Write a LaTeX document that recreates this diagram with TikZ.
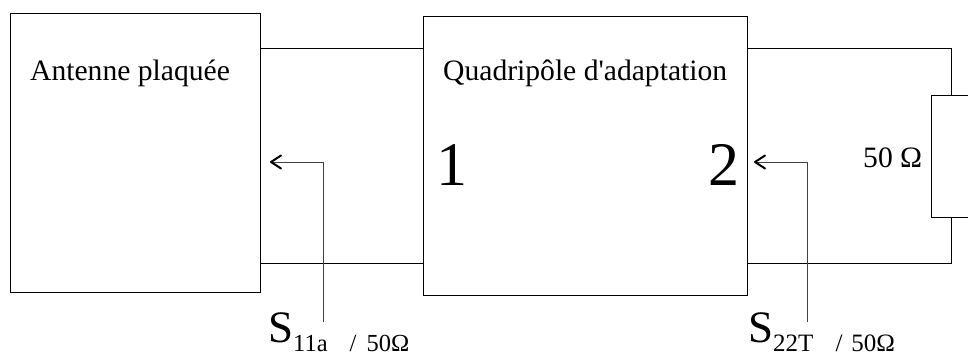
\documentclass[tikz,border=0pt]{standalone}
\usepackage{fontspec}
\setmainfont{Liberation Serif}
\usetikzlibrary{arrows.meta}
\tikzset{
  blk/.style={draw=black, line width=0.9pt, rectangle, inner sep=0pt},
  wire/.style={draw=black, line width=0.9pt},
  probe/.style={draw=black!75, line width=1pt, -{Straight Barb[length=10pt,width=13pt,line width=2pt,round,black]}},
  txt/.style={inner sep=0pt, anchor=base west, font=\fontsize{29.6}{30}\selectfont},
  big/.style={inner sep=0pt, anchor=base west, font=\fontsize{62}{62}\selectfont}
}
\begin{document}
\begin{tikzpicture}[x=1pt,y=-1pt]
\useasboundingbox (0,0) rectangle (968,356);
\node[blk, minimum width=250pt, minimum height=279pt] (ant) at (135,152.5) {};
\node[blk, minimum width=324pt, minimum height=279pt] (quad) at (585,155.5) {};
\node[blk, minimum width=40pt, minimum height=122pt] (res) at (951,156) {};
\coordinate (t) at (0,48);
\coordinate (b) at (0,263);
\draw[wire] (ant.east |- t) -- (quad.west |- t);
\draw[wire] (ant.east |- b) -- (quad.west |- b);
\draw[wire] (quad.east |- t) -| (res.north);
\draw[wire] (quad.east |- b) -| (res.south);
\node[txt] (l1) at (30,80) {Antenne plaquée};
\node[txt] (l2) at (443,80) {Quadripôle d\textquotesingle adaptation};
\node[big] (n1) at (436,185) {1};
\node[big] (n2) at (708,185) {2};
\node[txt] (r) at (863,167) {50 Ω};
\coordinate (p1) at (323,322);
\coordinate (a1) at (270,162);
\coordinate (p2) at (807,322);
\coordinate (a2) at (754,162);
\draw[probe] (p1) |- (a1);
\draw[probe] (p2) |- (a2);
\node[inner sep=0pt, anchor=base west] (s11) at (268,342) {\fontsize{45}{45}\selectfont S\raisebox{-9pt}{\fontsize{24.5}{25}\selectfont 11a\hspace{22pt}/\hspace{10pt}50Ω}};
\node[inner sep=0pt, anchor=base west] (s22) at (748,342) {\fontsize{45}{45}\selectfont S\raisebox{-9pt}{\fontsize{25}{25}\selectfont 22T\hspace{22pt}/\hspace{9pt}50Ω}};
\end{tikzpicture}
\end{document}
